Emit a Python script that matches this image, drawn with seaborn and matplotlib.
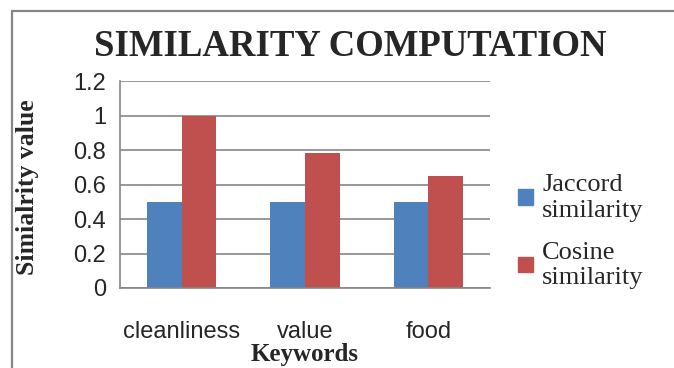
import numpy as np
import pandas as pd
import seaborn as sns
import matplotlib.pyplot as plt
from matplotlib.patches import Rectangle

keywords = ['cleanliness', 'value', 'food']
jaccard = [0.5, 0.5, 0.5]
cosine = [1.0, 0.78, 0.65]
series = ['Jaccord similarity', 'Cosine similarity']
colors = ['#4F81BD', '#C0504D']

df = pd.DataFrame({
    'Keywords': keywords * 2,
    'value': jaccard + cosine,
    'series': [series[0]] * 3 + [series[1]] * 3,
})

sns.set_style('white')
plt.rcParams['font.family'] = ['Liberation Sans', 'DejaVu Sans']
serif = ['Liberation Serif', 'DejaVu Serif']
grey = '#868686'

fig = plt.figure(figsize=(6.74, 3.68), dpi=100)
W, H = 674, 368
# chart border (only top and left edges visible)
fig.patches.append(Rectangle((12 / W, -0.2), 1.2, 1 - 11 / H + 0.2, transform=fig.transFigure,
                             fill=False, edgecolor=grey, linewidth=1.6))

ax = fig.add_axes([120 / W, 1 - 288 / H, 370 / W, 207 / H])
sns.barplot(data=df, x='Keywords', y='value', hue='series', palette=colors,
            width=0.56, saturation=1, linewidth=0, ax=ax, legend=False)

ax.set_ylim(0, 1.2)
ax.set_xlim(-0.5, 2.5)
ax.set_yticks(np.arange(0, 1.21, 0.2))
ax.set_yticklabels(['0', '0.2', '0.4', '0.6', '0.8', '1', '1.2'])
ax.yaxis.grid(True, color=grey, linewidth=1.2)
ax.set_axisbelow(True)
ax.tick_params(axis='y', length=6, color=grey, width=1.2, labelsize=17, pad=4)
ax.set_xticks(range(3))
ax.set_xticklabels(keywords)
ax.set_xticks([-0.5, 0.5, 1.5, 2.5], minor=True)
ax.tick_params(axis='x', which='major', length=0, labelsize=17, pad=24)
ax.tick_params(axis='x', which='minor', length=6, color=grey, width=1.2)
for s in ['top', 'right']:
    ax.spines[s].set_visible(False)
for s in ['left', 'bottom']:
    ax.spines[s].set_color(grey)
    ax.spines[s].set_linewidth(1.2)

ax.set_xlabel('')
ax.set_ylabel('')
fig.text(350 / W, 1 - 46 / H, 'SIMILARITY COMPUTATION', family=serif, weight='bold',
         fontsize=26.5, ha='center', va='center')
fig.text(28 / W, 1 - 187 / H, 'Simialrity value', family=serif, weight='bold',
         fontsize=18.5, ha='center', va='center', rotation=90)
fig.text(305 / W, 1 - 354 / H, 'Keywords', family=serif, weight='bold',
         fontsize=18, ha='center', va='center')

handles = [Rectangle((0, 0), 1, 1, color=c) for c in colors]
leg = fig.legend(handles, [s.replace(' ', '\n') for s in series], loc='upper left',
                 bbox_to_anchor=(500 / W, 1 - 156 / H), frameon=False,
                 prop={'family': serif, 'size': 19}, handlelength=0.55, handleheight=0.55,
                 handletextpad=0.35, labelspacing=0.75, borderpad=0.2)

fig.savefig('out.png', dpi=100)
